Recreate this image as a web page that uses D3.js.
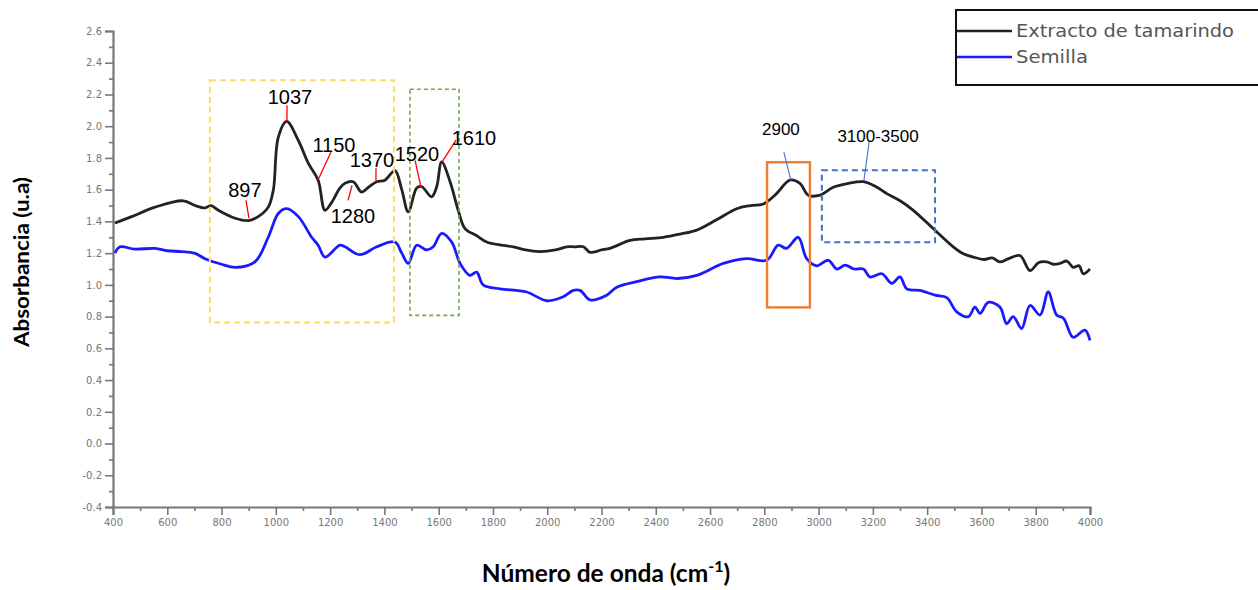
<!DOCTYPE html>
<html><head><meta charset="utf-8">
<script src="https://cdn.jsdelivr.net/npm/d3@7"></script>
<style>body{margin:0;background:#fff}</style>
</head><body><svg id="c" width="1258" height="590"></svg>
<script>
// ---- data ----
const seriesNames = ["Extracto de tamarindo", "Semilla"];
const extractoWave = [407,469,555,659,702,739,761,788,850,899,935,972,991,1009,1040,1083,1120,1156,1181,1206,1236,1255,1285,1316,1345,1372,1402,1439,1464,1488,1519,1537,1574,1593,1611,1642,1672,1697,1740,1777,1830,1875,1920,1973,2030,2072,2100,2133,2158,2200,2231,2305,2360,2428,2490,2551,2624,2698,2750,2796,2845,2894,2931,2962,3005,3054,3110,3165,3210,3251,3300,3349,3422,3496,3530,3570,3610,3640,3668,3700,3742,3779,3810,3840,3865,3889,3915,3938,3960,3975,4000];
const extractoAbs  = [1.39,1.43,1.49,1.53,1.50,1.485,1.50,1.47,1.42,1.405,1.43,1.49,1.60,1.93,2.03,1.91,1.765,1.66,1.47,1.52,1.61,1.64,1.65,1.585,1.62,1.65,1.66,1.72,1.60,1.46,1.61,1.62,1.555,1.62,1.775,1.65,1.47,1.355,1.31,1.27,1.25,1.24,1.22,1.21,1.22,1.24,1.24,1.24,1.205,1.22,1.23,1.28,1.29,1.30,1.32,1.345,1.41,1.48,1.50,1.51,1.575,1.66,1.64,1.565,1.565,1.615,1.64,1.65,1.62,1.575,1.53,1.47,1.355,1.24,1.20,1.175,1.16,1.17,1.145,1.165,1.185,1.09,1.14,1.145,1.13,1.135,1.15,1.11,1.12,1.07,1.10];
const semillaWave = [407,426,480,555,600,653,700,739,800,850,923,972,1009,1040,1083,1132,1156,1181,1236,1255,1310,1372,1439,1464,1488,1519,1556,1580,1611,1648,1679,1715,1740,1764,1826,1924,1998,2059,2096,2121,2158,2219,2256,2330,2415,2480,2551,2649,2735,2809,2851,2882,2925,2956,2993,3036,3067,3098,3130,3165,3189,3233,3270,3300,3325,3374,3429,3472,3509,3552,3576,3595,3625,3668,3693,3717,3748,3779,3816,3846,3877,3902,3938,3981,4000];
const semillaAbs  = [1.20,1.24,1.225,1.23,1.215,1.21,1.20,1.165,1.13,1.11,1.145,1.30,1.45,1.48,1.43,1.30,1.25,1.175,1.25,1.24,1.19,1.24,1.27,1.20,1.135,1.25,1.22,1.24,1.325,1.27,1.135,1.06,1.08,1.00,0.975,0.955,0.90,0.925,0.965,0.965,0.905,0.935,0.985,1.02,1.05,1.04,1.06,1.135,1.165,1.155,1.25,1.23,1.30,1.165,1.12,1.155,1.10,1.125,1.10,1.10,1.05,1.07,1.01,1.05,0.975,0.965,0.935,0.92,0.83,0.80,0.86,0.82,0.89,0.86,0.755,0.80,0.725,0.87,0.81,0.955,0.81,0.79,0.67,0.715,0.65];
const xTickLabels = [400,600,800,1000,1200,1400,1600,1800,2000,2200,2400,2600,2800,3000,3200,3400,3600,3800,4000];
const yTickLabels = ["2.6","2.4","2.2","2.0","1.8","1.6","1.4","1.2","1.0","0.8","0.6","0.4","0.2","0.0","-0.2","-0.4"];
const peakLabels = ["897","1037","1150","1370","1280","1520","1610"];
const peakTextPos = [[886,1.552],[1052,2.139],[1214,1.836],[1354,1.741],[1284,1.388],[1520,1.779],[1730,1.880]];
const peakLeaders = [[890,1.533,901,1.420],[1041,2.132,1041,2.025],[1203,1.836,1155,1.659],[1369,1.735,1369,1.647],[1281,1.628,1266,1.533],[1513,1.785,1535,1.615],[1664,1.912,1612,1.773]];
const bandLabels = ["2900","3100-3500"];
const bandTextPos = [[2861,1.943],[3219,1.899]];
const bandLeaders = [[2872,1.836,2898,1.659],[3186,1.899,3167,1.659]];
const regionBoxes = [[757,1435,2.290,0.763],[1494,1675,2.233,0.808],[2810,2968,1.773,0.858],[3012,3429,1.722,1.268]];

// ---- drawing ----
const svg = d3.select("#c");
const x = d3.scaleLinear().domain([400,4000]).range([113,1090]);
const y = d3.scaleLinear().domain([-0.4,2.6]).range([507,31]);
const font = "'Liberation Sans', Arial, sans-serif";
const wideFont = "'DejaVu Sans', sans-serif";

// axes
const yMinor = d3.range(-0.3, 2.6, 0.2);
const xMinor = d3.range(500, 4000, 200);
const ax = svg.append("g");
const gy = ax.append("g").attr("transform","translate(113,0)")
  .call(d3.axisLeft(y).tickValues(yTickLabels.map(Number)).tickSize(8).tickPadding(3).tickFormat((d,i)=>yTickLabels[i]));
const gyMinor = ax.append("g").attr("transform","translate(113,0)")
  .call(d3.axisLeft(y).tickValues(yMinor).tickSize(4).tickFormat(""));
const gx = ax.append("g").attr("transform","translate(0,507)")
  .call(d3.axisBottom(x).tickValues(xTickLabels).tickSize(8).tickPadding(4).tickFormat(d=>String(d)));
const gxMinor = ax.append("g").attr("transform","translate(0,507)")
  .call(d3.axisBottom(x).tickValues(xMinor).tickSize(4).tickFormat(""));
ax.selectAll("path.domain").attr("stroke","#777").attr("stroke-width",2.2);
gyMinor.select("path.domain").remove(); gxMinor.select("path.domain").remove();
ax.selectAll(".tick line").attr("stroke","#777").attr("stroke-width",1.6);
ax.selectAll(".tick text").attr("fill","#777").attr("font-family",wideFont).attr("font-size",10);

// curves
const line = d3.line().x(d=>x(d[0])).y(d=>y(d[1])).curve(d3.curveCatmullRom.alpha(0.5));
svg.append("path").datum(semillaWave.map((w,i)=>[w,semillaAbs[i]]))
  .attr("d",line).attr("fill","none").attr("stroke","#1a1aff").attr("stroke-width",2.8).attr("stroke-linejoin","round");
svg.append("path").datum(extractoWave.map((w,i)=>[w,extractoAbs[i]]))
  .attr("d",line).attr("fill","none").attr("stroke","#222").attr("stroke-width",2.8).attr("stroke-linejoin","round");

// region boxes
const boxStyles = [
  {stroke:"#ffd966", dash:"6,4", w:2},
  {stroke:"#70ad47", dash:"4,3", w:1.6},
  {stroke:"#ed7d31", dash:null, w:2.4},
  {stroke:"#4472c4", dash:"6,4", w:2}
];
regionBoxes.forEach((b,i)=>{
  const r = svg.append("rect").attr("x",x(b[0])).attr("y",y(b[2]))
    .attr("width",x(b[1])-x(b[0])).attr("height",y(b[3])-y(b[2]))
    .attr("fill","none").attr("stroke",boxStyles[i].stroke).attr("stroke-width",boxStyles[i].w);
  if (boxStyles[i].dash) r.attr("stroke-dasharray",boxStyles[i].dash);
});

// peak annotations
peakLeaders.forEach(l=>{
  svg.append("line").attr("x1",x(l[0])).attr("y1",y(l[1])).attr("x2",x(l[2])).attr("y2",y(l[3]))
    .attr("stroke","#ff0000").attr("stroke-width",1.3);
});
peakLabels.forEach((t,i)=>{
  svg.append("text").attr("x",x(peakTextPos[i][0])).attr("y",y(peakTextPos[i][1]))
    .attr("text-anchor","middle").attr("font-family",font).attr("font-size",20).attr("fill","#000").text(t);
});
bandLeaders.forEach(l=>{
  svg.append("line").attr("x1",x(l[0])).attr("y1",y(l[1])).attr("x2",x(l[2])).attr("y2",y(l[3]))
    .attr("stroke","#4472c4").attr("stroke-width",1.1);
});
bandLabels.forEach((t,i)=>{
  svg.append("text").attr("x",x(bandTextPos[i][0])).attr("y",y(bandTextPos[i][1]))
    .attr("text-anchor","middle").attr("font-family",font).attr("font-size",17).attr("fill","#000").text(t);
});

// legend
const lg = svg.append("g");
lg.append("rect").attr("x",956).attr("y",10).attr("width",320).attr("height",75)
  .attr("fill","#fff").attr("stroke","#111").attr("stroke-width",2);
const legendColors = ["#222","#1a1aff"];
seriesNames.forEach((n,i)=>{
  const yy = 31 + i*26;
  lg.append("line").attr("x1",957).attr("x2",1012).attr("y1",yy).attr("y2",yy)
    .attr("stroke",legendColors[i]).attr("stroke-width",2.4);
  lg.append("text").attr("x",1016).attr("y",yy+6).attr("font-family",wideFont).attr("font-size",17)
    .attr("fill","#555").attr("textLength", i===0?218:72).attr("lengthAdjust","spacingAndGlyphs").text(n);
});

// axis titles
svg.append("text").attr("transform","translate(29,262) rotate(-90)").attr("text-anchor","middle")
  .attr("font-family","Lato, 'Open Sans', sans-serif").attr("font-weight","bold").attr("font-size",21)
  .attr("fill","#000").attr("textLength",170).attr("lengthAdjust","spacingAndGlyphs").text("Absorbancia (u.a)");
const xt = svg.append("text").attr("x",606).attr("y",582).attr("text-anchor","middle")
  .attr("font-family","Lato, 'Open Sans', sans-serif").attr("font-weight","bold").attr("font-size",24.5).attr("fill","#000");
xt.append("tspan").text("Número de onda (cm");
xt.append("tspan").attr("dy",-10).attr("font-size",16).text("-1");
xt.append("tspan").attr("dy",10).text(")");
</script></body></html>
